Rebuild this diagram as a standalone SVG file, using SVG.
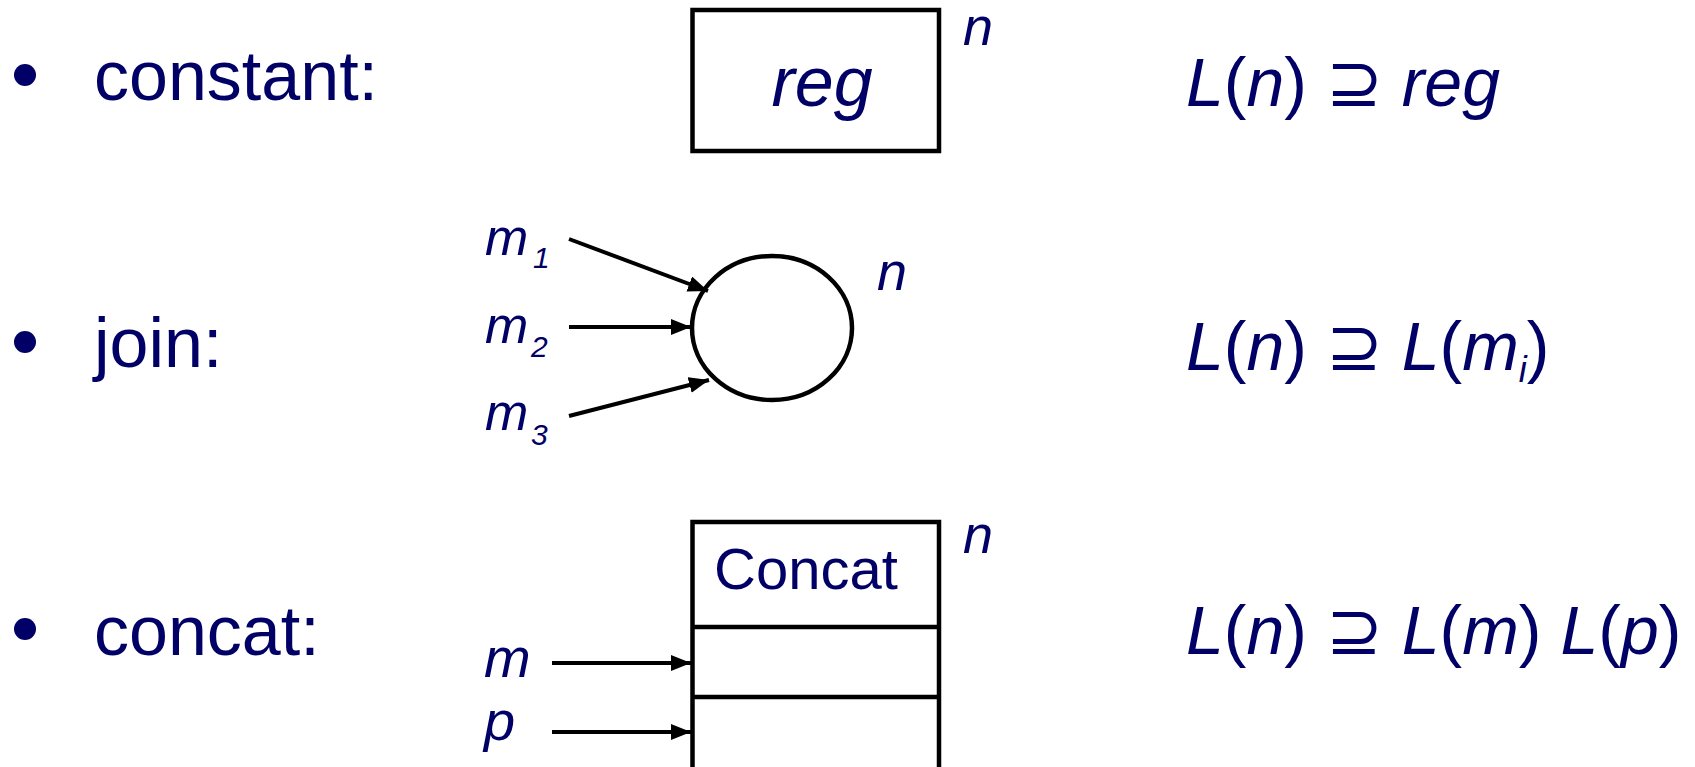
<svg xmlns="http://www.w3.org/2000/svg" width="1695" height="767" viewBox="0 0 1695 767">
<defs>
<style>
text{font-family:"Liberation Sans","DejaVu Sans",sans-serif;fill:#000066}
.lbl{font-size:70px}
.it{font-style:italic}
.f{font-size:68px}
.n{font-size:54px;font-style:italic}
.mi{font-size:52px;font-style:italic}
.sub{font-size:30px;font-style:italic}
.mp{font-size:56px;font-style:italic}
.box{fill:#fff;stroke:#000;stroke-width:4.5}
.arr{stroke:#000;stroke-width:4;fill:none;marker-end:url(#ah)}
.bul{fill:#000066}
</style>
<marker id="ah" markerUnits="userSpaceOnUse" markerWidth="22" markerHeight="18" refX="20" refY="8" orient="auto">
<path d="M0,0 L20,8 L0,16 Z" fill="#000"/>
</marker>
</defs>
<rect width="1695" height="767" fill="#fff"/>

<g id="row-constant">
<circle class="bul" cx="25" cy="75" r="11"/>
<text class="lbl" x="94" y="100">constant:</text>
</g>
<g id="row-join">
<circle class="bul" cx="25" cy="342" r="11"/>
<text class="lbl" x="94" y="367">join:</text>
</g>
<g id="row-concat">
<circle class="bul" cx="25" cy="629" r="11"/>
<text class="lbl" x="94" y="655">concat:</text>
</g>

<g id="node-reg">
<rect class="box" x="692.5" y="10" width="246.5" height="141"/>
<text class="lbl it" x="822" y="106" text-anchor="middle">reg</text>
<text class="n" x="963" y="45">n</text>
</g>

<g id="node-join">
<ellipse class="box" cx="772" cy="328" rx="80" ry="72"/>
<text class="n" x="877" y="290">n</text>
</g>

<g id="labels-m">
<text class="mi" x="485" y="255">m</text><text class="sub" x="533" y="268">1</text>
<text class="mi" x="485" y="343">m</text><text class="sub" x="531" y="357">2</text>
<text class="mi" x="485" y="430">m</text><text class="sub" x="531" y="445">3</text>
<text class="mp" x="484" y="677">m</text>
<text class="mp" x="484" y="740">p</text>
</g>

<g id="node-concat">
<rect class="box" x="692.5" y="522" width="246.5" height="260"/>
<line x1="692.5" y1="627" x2="939" y2="627" stroke="#000" stroke-width="4.5"/>
<line x1="692.5" y1="697" x2="939" y2="697" stroke="#000" stroke-width="4.5"/>
<text x="806" y="589" text-anchor="middle" style="font-size:58px">Concat</text>
<text class="n" x="963" y="553">n</text>
</g>

<g id="connectors">
<line class="arr" x1="569" y1="239" x2="708" y2="291"/>
<line class="arr" x1="569" y1="327" x2="691" y2="327"/>
<line class="arr" x1="569" y1="416" x2="709" y2="380"/>
<line class="arr" x1="552" y1="663" x2="691" y2="663"/>
<line class="arr" x1="552" y1="732" x2="691" y2="732"/>
</g>

<g id="formulas">
<text class="f" x="1186" y="106"><tspan class="it">L</tspan>(<tspan class="it">n</tspan>) ⊇ <tspan class="it">reg</tspan></text>
<text class="f" x="1186" y="370"><tspan class="it">L</tspan>(<tspan class="it">n</tspan>) ⊇ <tspan class="it">L</tspan>(<tspan class="it">m</tspan><tspan class="it" style="font-size:36px" dy="12">i</tspan><tspan dy="-12">)</tspan></text>
<text class="f" x="1186" y="654"><tspan class="it">L</tspan>(<tspan class="it">n</tspan>) ⊇ <tspan class="it">L</tspan>(<tspan class="it">m</tspan>) <tspan class="it">L</tspan>(<tspan class="it">p</tspan>)</text>
</g>
</svg>
